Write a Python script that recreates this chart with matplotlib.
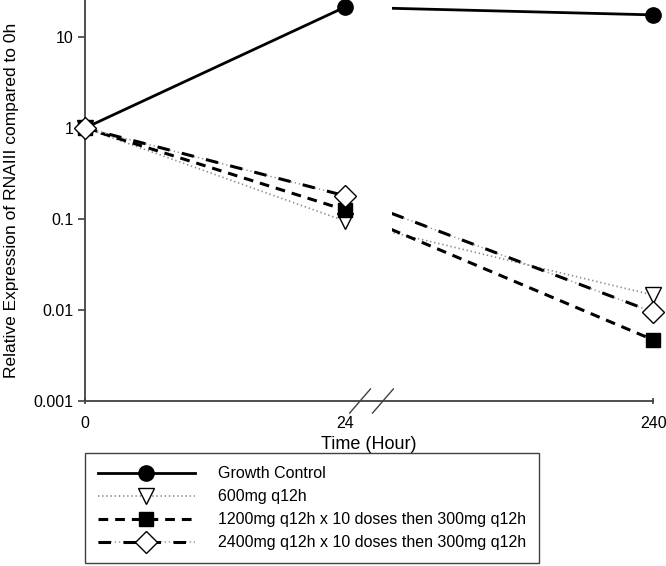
import matplotlib
matplotlib.use("Agg")
import matplotlib.pyplot as plt
from matplotlib.patches import Rectangle
from matplotlib.legend_handler import HandlerTuple
import matplotlib.transforms as mtrans

plt.rcParams["font.family"] = ["Liberation Sans", "DejaVu Sans"]
plt.rcParams["lines.scale_dashes"] = False

# data
time_labels = ["0", "24", "240"]
x_pos = [0, 1, 2.185]  # broken axis: 24 -> 240 squeezed
growth_control = [1, 21.3, 17.5]
q12h_600 = [1, 0.095, 0.0146]
q12h_1200 = [1, 0.126, 0.0047]
q12h_2400 = [1, 0.18, 0.0095]
series_names = [
    "Growth Control",
    "600mg q12h",
    "1200mg q12h x 10 doses then 300mg q12h",
    "2400mg q12h x 10 doses then 300mg q12h",
]

break_start = 1.18  # second segment visible from here

fig = plt.figure(figsize=(6.66, 5.66), dpi=100)
ax = fig.add_axes([0.1276, 0.2915, 0.853, 0.7085])
ax.set_yscale("log")
ax.set_ylim(0.001, 25.5)
ax.set_xlim(0, x_pos[-1])

blend = mtrans.blended_transform_factory(ax.transData, ax.transAxes)

# line styles: list of layers per series
styles = [
    [dict(color="black", lw=2.0, ls="-")],
    [dict(color="#8c8c8c", lw=1.2, dashes=(1, 2))],
    [dict(color="black", lw=2.2, dashes=(7, 5))],
    [dict(color="#9a9a9a", lw=1.1, dashes=(1, 2)),
     dict(color="black", lw=2.2, dashes=(9, 9))],
]
markers = [
    dict(marker="o", ms=11, mfc="black", mec="black"),
    dict(marker="v", ms=12, mfc="white", mec="black", mew=1.0),
    dict(marker="s", ms=10, mfc="black", mec="black"),
    dict(marker="D", ms=11, mfc="white", mec="black", mew=1.0),
]
all_values = [growth_control, q12h_600, q12h_1200, q12h_2400]

handles = []
for vals, sty, mk in zip(all_values, styles, markers):
    layer_handles = []
    for s in sty:
        # first segment 0 -> 24
        ax.plot(x_pos[:2], vals[:2], **s)
        # second segment 24 -> 240, clipped after the break
        ln, = ax.plot(x_pos[1:], vals[1:], **s)
        clip = Rectangle((break_start, 0), 10, 1, transform=blend)
        ln.set_clip_path(clip)
        layer_handles.append(plt.Line2D([], [], **s))
    ax.plot(x_pos, vals, ls="none", clip_on=False, zorder=5, **mk)
    layer_handles.append(plt.Line2D([], [], ls="none", **mk))
    handles.append(tuple(layer_handles))

# axes styling
for side in ["top", "right"]:
    ax.spines[side].set_visible(False)
for side in ["left", "bottom"]:
    ax.spines[side].set_color("#404040")
    ax.spines[side].set_linewidth(1.3)

ax.set_yticks([0.001, 0.01, 0.1, 1, 10])
ax.set_yticklabels(["0.001", "0.01", "0.1", "1", "10"])
ax.yaxis.set_minor_locator(matplotlib.ticker.NullLocator())
ax.set_xticks(x_pos)
ax.set_xticklabels(time_labels)
ax.tick_params(axis="both", labelsize=11.5, color="#404040", width=1.2, length=5)
ax.tick_params(axis="x", direction="inout", pad=8)
ax.xaxis.get_major_ticks()[1].tick1line.set_visible(False)

# axis break marks
for bx in [1.058, 1.146]:
    ax.plot([bx - 0.04, bx + 0.04], [-0.03, 0.03], color="#404040", lw=1.0,
            transform=blend, clip_on=False)

ax.set_xlabel("Time (Hour)", fontsize=13, labelpad=4)
ax.set_ylabel("Relative Expression of RNAIII compared to 0h", fontsize=12.5, labelpad=10)

leg = fig.legend(handles, series_names, loc="lower left",
                 bbox_to_anchor=(0.1276, 0.0053), borderaxespad=0, fontsize=11.5,
                 handler_map={tuple: HandlerTuple(ndivide=1, pad=0)},
                 handlelength=6.1, handletextpad=1.45, labelspacing=0.5,
                 borderpad=0.8, fancybox=False, edgecolor="#404040",
                 framealpha=1)
leg.get_frame().set_linewidth(1.0)

fig.savefig("out.png", dpi=100)
